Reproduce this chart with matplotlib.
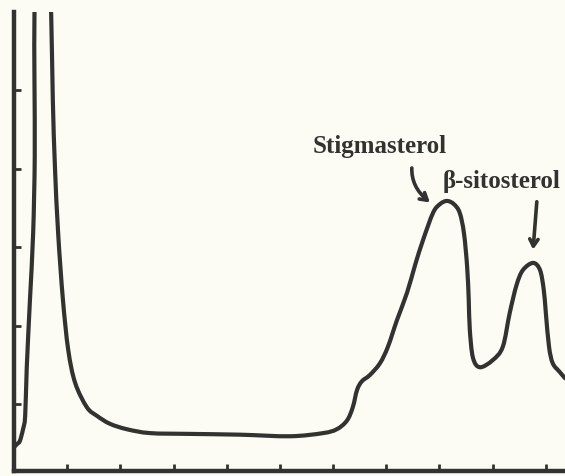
import matplotlib.pyplot as plt
from matplotlib.path import Path
from matplotlib.patches import PathPatch
import numpy as np

# trace (x in tick units, y in tick units)
time = [0.0, 0.056, 0.11, 0.17, 0.21, 0.24, 0.30, 0.36, 0.39, 0.385, 0.385,
        0.43, 0.545, 0.66,
        0.70, 0.73, 0.77, 0.83, 0.92, 1.02, 1.15, 1.37, 1.56, 1.80, 2.12,
        2.56, 3.31, 4.25, 5.19, 5.81, 6.07, 6.26, 6.37, 6.45, 6.54, 6.69,
        6.88, 7.03, 7.20, 7.39, 7.54, 7.69, 7.88, 8.01, 8.14, 8.27, 8.38,
        8.46, 8.52, 8.55, 8.57, 8.63, 8.76, 9.00, 9.19, 9.32, 9.45, 9.57,
        9.76, 9.89, 9.96, 10.0, 10.06, 10.13, 10.26, 10.36]
signal = [0.45, 0.49, 0.53, 0.68, 0.85, 1.47, 2.33, 3.18, 4.15, 5.10, 5.99,
          6.54, 6.92, 6.54,
          5.94, 4.88, 4.02, 3.18, 2.33, 1.69, 1.27, 0.96, 0.85, 0.75, 0.68,
          0.63, 0.62, 0.61, 0.59, 0.63, 0.68, 0.79, 0.96, 1.18, 1.29, 1.37,
          1.52, 1.73, 2.07, 2.42, 2.77, 3.09, 3.44, 3.55, 3.59, 3.55, 3.44,
          3.18, 2.75, 2.33, 1.95, 1.59, 1.47, 1.56, 1.73, 2.16, 2.52, 2.71,
          2.80, 2.71, 2.46, 2.16, 1.73, 1.52, 1.41, 1.33]

xticks = [1, 2, 3, 4, 5, 6, 7, 8, 9, 10]
yticks = [1, 2, 3, 4, 5]

ink = '#323330'
paper = '#fcfcf4'


def smooth_path(x, y):
    # pass a bezier through every traced point (catmull-rom style handles)
    p = np.column_stack([x, y])
    pad = np.vstack([p[0], p, p[-1]])
    verts = [p[0]]
    codes = [Path.MOVETO]
    for i in range(len(p) - 1):
        p0, p1, p2, p3 = pad[i], pad[i + 1], pad[i + 2], pad[i + 3]
        verts += [p1 + (p2 - p0) / 6, p2 - (p3 - p1) / 6, p2]
        codes += [Path.CURVE4] * 3
    return Path(verts, codes)


fig = plt.figure(figsize=(5.65, 4.76), dpi=100, facecolor=paper)
ax = fig.add_axes([14 / 565, 5 / 476, 551 / 565, 459 / 476])
ax.set_facecolor(paper)

ax.add_patch(PathPatch(smooth_path(time, signal), facecolor='none',
                       edgecolor=ink, lw=3, joinstyle='round', capstyle='round'))

ax.set_xlim(0, 10.36)
ax.set_ylim(0.147, 5.999)
ax.set_xticks(xticks)
ax.set_yticks(yticks)
ax.set_xticklabels([])
ax.set_yticklabels([])
ax.tick_params(direction='in', length=5, width=2, color=ink)

for side in ['top', 'right']:
    ax.spines[side].set_visible(False)
for side in ['left', 'bottom']:
    ax.spines[side].set_linewidth(3.2)
    ax.spines[side].set_color(ink)

font = dict(family='Liberation Serif', size=18, weight='bold', color=ink)
arrow = dict(arrowstyle='->,head_length=0.5,head_width=0.3',
             lw=2.6, color=ink, shrinkA=0, shrinkB=0)

ax.text(5.62, 4.20, 'Stigmasterol', ha='left', va='baseline', **font)
ax.annotate('', xy=(7.82, 3.57), xytext=(7.48, 4.01),
            arrowprops=dict(arrow, connectionstyle='angle3,angleA=-92,angleB=-40'))

ax.text(8.05, 3.76, 'β-sitosterol', ha='left', va='baseline', **font)
ax.annotate('', xy=(9.76, 2.97), xytext=(9.83, 3.58), arrowprops=arrow)

plt.savefig('out.png', dpi=100, facecolor=paper)
